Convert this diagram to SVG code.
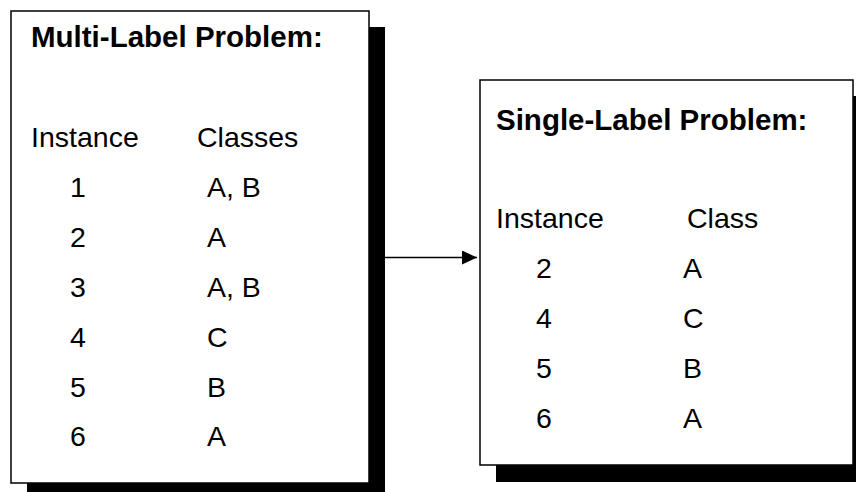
<svg xmlns="http://www.w3.org/2000/svg" width="856" height="492" viewBox="0 0 856 492">
<style>
.box{fill:#fff;stroke:#000;stroke-width:1.5}
.sh{fill:#000}
text{font-family:"Liberation Sans",Arial,sans-serif;font-size:28.5px;fill:#000}
.t{font-weight:bold;font-size:29.5px}
.c{stroke:#000;stroke-width:1.5;fill:none}
</style>
<defs>
<marker id="ah" markerWidth="16" markerHeight="14" refX="15" refY="7" orient="auto" markerUnits="userSpaceOnUse">
<path d="M0,0 L15,7 L0,14 Z" fill="#000"/>
</marker>
</defs>
<g id="multi">
<rect class="sh" x="27" y="27" width="358" height="472"/>
<rect class="box" x="11" y="11" width="358" height="472"/>
<text class="t" x="31" y="47">Multi-Label Problem:</text>
<text x="31" y="147">Instance</text>
<text x="197" y="147">Classes</text>
<text x="70" y="197">1</text><text x="207" y="197">A, B</text>
<text x="70" y="247">2</text><text x="207" y="247">A</text>
<text x="70" y="297">3</text><text x="207" y="297">A, B</text>
<text x="70" y="347">4</text><text x="207" y="347">C</text>
<text x="70" y="397">5</text><text x="207" y="397">B</text>
<text x="70" y="446">6</text><text x="207" y="446">A</text>
</g>
<g id="single">
<rect class="sh" x="496" y="96" width="373" height="386"/>
<rect class="box" x="480" y="80" width="373" height="385"/>
<text class="t" x="496" y="130">Single-Label Problem:</text>
<text x="496" y="228">Instance</text>
<text x="687" y="228">Class</text>
<text x="536" y="278">2</text><text x="683" y="278">A</text>
<text x="536" y="328">4</text><text x="683" y="328">C</text>
<text x="536" y="378">5</text><text x="683" y="378">B</text>
<text x="536" y="428">6</text><text x="683" y="428">A</text>
</g>
<g id="connectors">
<line class="c" x1="385" y1="257.5" x2="477" y2="257.5" marker-end="url(#ah)"/>
</g>
</svg>
